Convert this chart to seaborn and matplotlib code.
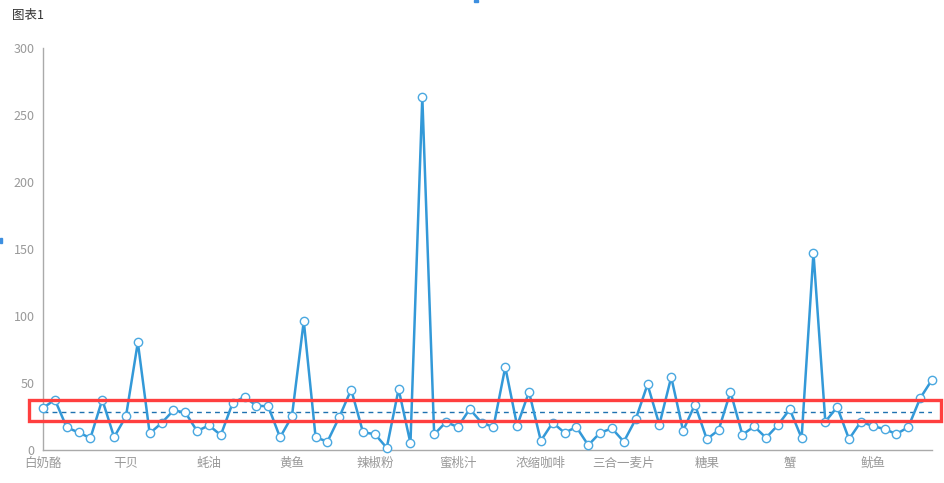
import matplotlib
matplotlib.use("Agg")
import matplotlib.pyplot as plt
import seaborn as sns
import pandas as pd
import numpy as np
from matplotlib.patches import Rectangle

categories = [
    "白奶酪", "白米", "饼干", "糙米", "蛋糕", "德国奶酪", "蕃茄酱",
    "干贝", "光明奶酪", "桂花糕", "海参", "海苔酱", "海鲜粉", "海鲜酱",
    "蚝油", "海哲皮", "黑奶酪", "胡椒粉", "花奶酪", "花生", "黄豆",
    "黄鱼", "鸡", "鸡精", "鸡肉", "酱油", "烤肉酱", "蚵",
    "辣椒粉", "浪花奶酪", "柳橙汁", "龙虾", "绿茶", "绿豆糕", "麻油",
    "蜜桃汁", "棉花糖", "民众奶酪", "墨鱼", "柠檬汁", "牛奶", "牛肉干",
    "浓缩咖啡", "糯米", "啤酒", "苹果汁", "汽水", "巧克力", "肉松",
    "三合一麦片", "沙茶", "山渣片", "薯条", "苏打水", "酸奶酪", "矿泉水",
    "糖果", "甜辣酱", "温馨奶酪", "味精", "虾米", "虾子", "小米",
    "蟹", "雪鱼", "盐", "盐水鸭", "燕麦", "鸭肉", "意大利奶酪",
    "鱿鱼", "玉米饼", "玉米片", "运动饮料", "猪肉", "猪肉干",
]

values = [
    31.3, 37.6, 16.9, 13.1, 8.9, 37.6, 9.6,
    25.1, 80.4, 12.4, 20.1, 29.5, 28.1, 14.1,
    18.4, 11.1, 35.1, 39.6, 33.1, 32.6, 9.4,
    25.1, 96.2, 9.4, 6.3, 24.6, 45.1, 13.1,
    11.9, 1.6, 45.4, 5.1, 263.5, 11.6, 20.9,
    17.1, 30.6, 20.4, 17.1, 61.9, 18.1, 43.4,
    6.9, 20.4, 12.9, 17.1, 3.6, 12.9, 16.1,
    6.2, 22.9, 48.9, 18.9, 54.4, 14.4, 33.9,
    8.1, 14.9, 43.4, 11.4, 17.6, 9.1, 18.6,
    30.4, 8.9, 147.2, 21.1, 32.1, 8.1, 21.1,
    17.9, 15.6, 11.9, 17.1, 38.6, 52.4,
]

y_ticks = [0, 50, 100, 150, 200, 250, 300]
label_step = 7
title_text = "图表1"

sns.set_theme(style="white")
plt.rcParams["font.family"] = ["Noto Sans CJK SC", "DejaVu Sans"]

df = pd.DataFrame({"idx": np.arange(len(categories)), "name": categories, "value": values})

fig = plt.figure(figsize=(9.44, 4.83), dpi=100)
ax = fig.add_axes([43 / 944, (483 - 450) / 483, (932 - 43) / 944, (450 - 48) / 483])

line_color = "#3399d8"
sns.lineplot(data=df, x="idx", y="value", ax=ax, color=line_color, linewidth=1.8,
             marker="o", markersize=6, markerfacecolor="white",
             markeredgecolor="#4aa8e0", markeredgewidth=1.0, clip_on=False, zorder=3)

avg = float(np.mean(values))
ax.plot([df["idx"].min(), df["idx"].max()], [avg, avg], color="#1f72b0",
        linewidth=1.0, dashes=(3.5, 3), zorder=2)

ax.set_xlim(0, len(categories) - 1)
ax.set_ylim(y_ticks[0], y_ticks[-1])
ax.set_yticks(y_ticks)
ax.set_yticklabels([str(t) for t in y_ticks])
tick_idx = list(range(0, len(categories), label_step))
ax.set_xticks(tick_idx)
ax.set_xticklabels([categories[i] for i in tick_idx])
ax.set_xlabel("")
ax.set_ylabel("")
ax.tick_params(axis="both", length=0, labelsize=9, colors="#999999")
ax.tick_params(axis="y", pad=6)
ax.tick_params(axis="x", pad=5)
for s in ["top", "right"]:
    ax.spines[s].set_visible(False)
for s in ["left", "bottom"]:
    ax.spines[s].set_color("#aaaaaa")
    ax.spines[s].set_linewidth(1.0)
ax.grid(False)

fig.text(12 / 944, 1 - 15 / 483, title_text, fontsize=9, color="#333333",
         ha="left", va="center")

# highlight box overlay
fig.patches.append(Rectangle((29 / 944, 1 - 421 / 483), (941 - 29) / 944, (421 - 400) / 483,
                             transform=fig.transFigure, fill=False,
                             edgecolor="#ff3f3f", linewidth=2.4, zorder=10))
# small selection handles
fig.patches.append(Rectangle((474 / 944, 1 - 2 / 483), 4 / 944, 2 / 483,
                             transform=fig.transFigure, color="#3d8fe0", zorder=10))
fig.patches.append(Rectangle((0, 1 - 243 / 483), 2 / 944, 5 / 483,
                             transform=fig.transFigure, color="#3d8fe0", zorder=10))

fig.savefig("out.png", dpi=100)
